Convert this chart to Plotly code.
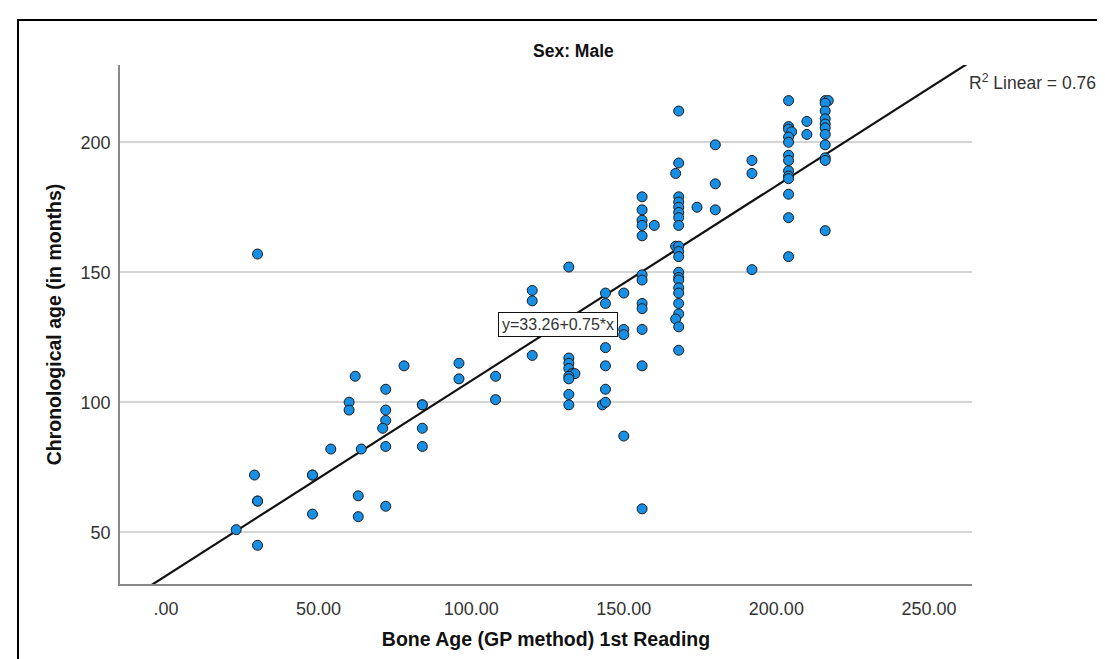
import plotly.graph_objects as go

# Bone age (GP method) 1st reading, months
bone_age = [
    23,
    29, 30, 30, 30, 30,
    48, 48, 48,
    54,
    60, 60,
    62, 63, 63, 64,
    72, 72, 72, 71, 72, 72,
    78,
    84, 84, 84, 84,
    96, 96,
    108, 108,
    120, 120, 120,
    132, 132, 132, 132, 133, 134, 132, 132, 132, 132,
    144, 144, 144, 144, 144, 143, 144,
    150, 150, 150, 150,
    156, 156, 156, 156, 156, 156, 156, 156, 156, 156, 156, 156,
    160,
    168, 168, 167, 168, 168, 168, 168, 168, 168, 167, 168, 168, 168,
    168, 168, 168, 168, 168, 168, 168, 167, 168, 168,
    174,
    180, 180, 180,
    192, 192, 192,
    204, 204, 204, 205, 204, 204, 204, 204, 204, 204, 204, 204, 204, 204,
    210, 210,
    216, 217, 216, 216, 216, 216, 216, 216, 216, 216, 216, 216,
]
# Chronological age, months
chrono_age = [
    51,
    72, 62, 62, 45, 157,
    72, 72, 57,
    82,
    100, 97,
    110, 64, 56, 82,
    105, 97, 93, 90, 83, 60,
    114,
    99, 99, 90, 83,
    115, 109,
    110, 101,
    118, 143, 139,
    152, 117, 115, 113, 111, 111, 110, 109, 103, 99,
    142, 138, 121, 114, 105, 99, 100,
    142, 128, 126, 87,
    179, 174, 170, 168, 164, 149, 147, 138, 136, 128, 114, 59,
    168,
    212, 192, 188, 179, 177, 175, 173, 171, 168, 160, 160, 158,
    156, 150, 148, 147, 144, 142, 138, 134, 132, 129, 120,
    175,
    199, 184, 174,
    193, 188, 151,
    216, 206, 205, 204, 202, 200, 195, 193, 189, 187, 186, 180, 171, 156,
    208, 203,
    216, 216, 215, 212, 209, 207, 205.5, 203, 199, 194, 193, 166,
]

intercept = 33.26
slope = 0.75
r2 = 0.76

x_ticks = [0, 50, 100, 150, 200, 250]
x_tick_labels = [".00", "50.00", "100.00", "150.00", "200.00", "250.00"]
y_ticks = [50, 100, 150, 200]
y_tick_labels = ["50", "100", "150", "200"]

FONT = "Liberation Sans, Arial, sans-serif"

# plot area geometry (pixels)
W, H = 1105, 659
L, R, T, B = 112, 964, 57, 576

fig = go.Figure()

fit_x = [-20, 270]
fit_y = [intercept + slope * v for v in fit_x]
fig.add_trace(go.Scatter(
    x=fit_x, y=fit_y, mode="lines",
    line=dict(color="#111111", width=2.2),
    hoverinfo="skip", showlegend=False,
))

fig.add_trace(go.Scatter(
    x=bone_age, y=chrono_age, mode="markers",
    marker=dict(size=10, color="#178fe4",
                line=dict(color="#1a1a1a", width=1)),
    showlegend=False,
))

def px(xp):
    return (xp - L) / (R - L)

def py(yp):
    return (B - yp) / (B - T)

fig.update_layout(
    width=W, height=H,
    margin=dict(l=L, r=W - R, t=T, b=H - B, autoexpand=False),
    paper_bgcolor="white", plot_bgcolor="white",
    font=dict(family=FONT, color="#222222"),
    xaxis=dict(
        range=[-15.07, 264.1],
        tickvals=x_ticks, ticktext=x_tick_labels,
        showgrid=False, zeroline=False,
        showline=True, linecolor="#8a8a8a", linewidth=1.5,
        ticks="", ticklabelstandoff=8,
        tickfont=dict(size=18, color="#333333"),
        title=dict(text="<b>Bone Age (GP method) 1st Reading</b>",
                   font=dict(size=19.5, color="#111111"), standoff=14),
    ),
    yaxis=dict(
        range=[30.1, 229.7],
        tickvals=y_ticks, ticktext=y_tick_labels,
        showgrid=True, gridcolor="#d4d4d4", gridwidth=1.5,
        zeroline=False,
        showline=True, linecolor="#8a8a8a", linewidth=1.5,
        ticks="", ticklabelstandoff=4,
        tickfont=dict(size=18, color="#333333"),
        title=dict(text="<b>Chronological age (in months)</b>",
                   font=dict(size=19.5, color="#111111"), standoff=14),
    ),
    shapes=[dict(
        type="rect", xref="paper", yref="paper",
        x0=px(10), x1=px(1112), y0=py(668), y1=py(12),
        line=dict(color="black", width=2), fillcolor="rgba(0,0,0,0)",
        layer="below",
    )],
    annotations=[
        dict(text="<b>Sex: Male</b>", xref="paper", yref="paper",
             x=px(565), y=py(43), xanchor="center", yanchor="middle",
             showarrow=False, font=dict(size=17.5, color="#111111")),
        dict(text="R<sup>2</sup> Linear = %.2f" % r2, xref="paper", yref="paper",
             x=px(959), y=py(74), xanchor="left", yanchor="middle",
             showarrow=False, font=dict(size=17.5, color="#333333")),
        dict(text="y=%.2f+%.2f*x" % (intercept, slope), xref="x", yref="y",
             x=128.3, y=129.8, showarrow=False,
             bgcolor="white", bordercolor="#111111", borderwidth=1, borderpad=3,
             font=dict(size=16, color="#333333")),
    ],
)

fig.write_html("out.html")
